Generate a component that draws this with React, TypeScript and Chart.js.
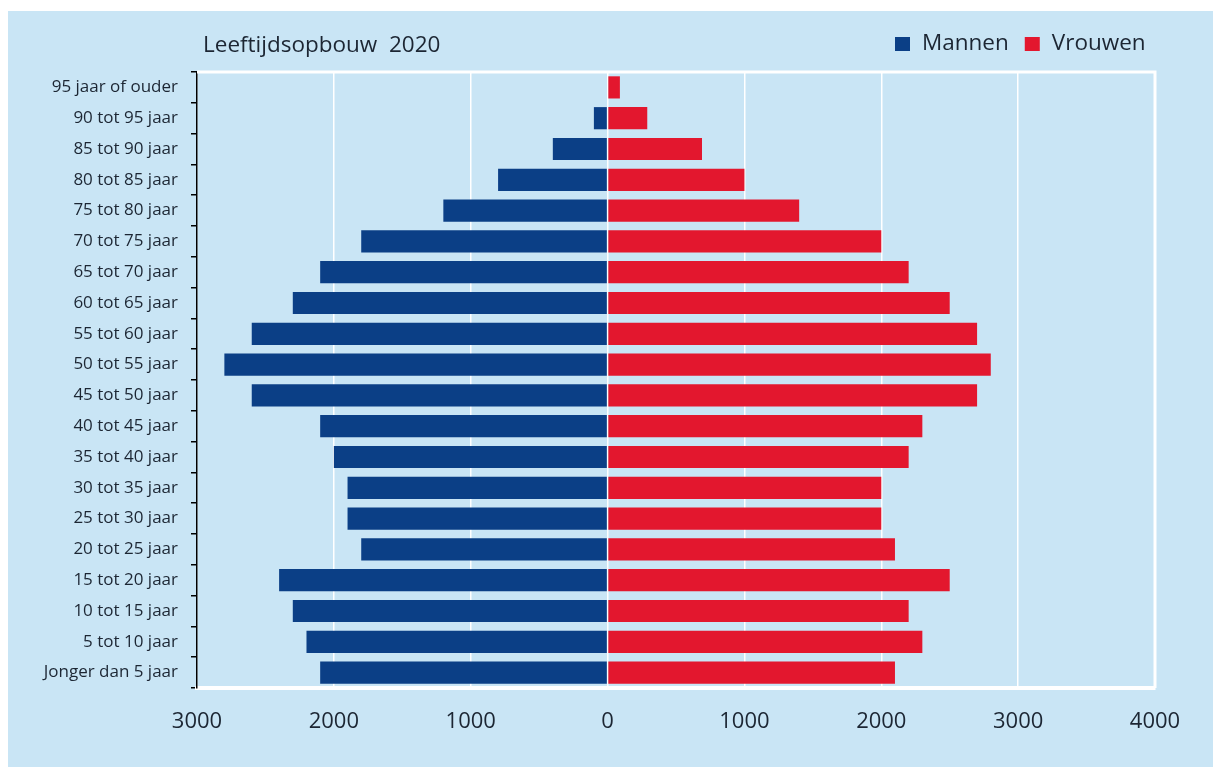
import React, { useEffect, useRef } from "react";
import { Chart, registerables } from "chart.js";

Chart.register(...registerables);

const categories = [
  "95 jaar of ouder",
  "90 tot 95 jaar",
  "85 tot 90 jaar",
  "80 tot 85 jaar",
  "75 tot 80 jaar",
  "70 tot 75 jaar",
  "65 tot 70 jaar",
  "60 tot 65 jaar",
  "55 tot 60 jaar",
  "50 tot 55 jaar",
  "45 tot 50 jaar",
  "40 tot 45 jaar",
  "35 tot 40 jaar",
  "30 tot 35 jaar",
  "25 tot 30 jaar",
  "20 tot 25 jaar",
  "15 tot 20 jaar",
  "10 tot 15 jaar",
  "5 tot 10 jaar",
  "Jonger dan 5 jaar",
];

const mannen = [0, 100, 400, 800, 1200, 1800, 2100, 2300, 2600, 2800, 2600, 2100, 2000, 1900, 1900, 1800, 2400, 2300, 2200, 2100];
const vrouwen = [90, 290, 690, 1000, 1400, 2000, 2200, 2500, 2700, 2800, 2700, 2300, 2200, 2000, 2000, 2100, 2500, 2200, 2300, 2100];

const title = "Leeftijdsopbouw  2020";
const seriesNames = ["Mannen", "Vrouwen"];
const xMin = -3000;
const xMax = 4000;
const xStep = 1000;

const BLUE = "#0b3f86";
const RED = "#e3172e";
const BG = "#c9e5f5";
const TEXT = "#1c2633";
const FONT = "'Open Sans', 'DejaVu Sans', sans-serif";

const decorPlugin = {
  id: "decor",
  beforeDatasetsDraw(chart: any) {
    const { ctx, chartArea } = chart;
    ctx.save();
    ctx.strokeStyle = "#ffffff";
    ctx.lineWidth = 3;
    ctx.beginPath();
    ctx.moveTo(chartArea.left, chartArea.top);
    ctx.lineTo(chartArea.right, chartArea.top);
    ctx.lineTo(chartArea.right, chartArea.bottom);
    ctx.stroke();
    ctx.restore();
  },
  afterDraw(chart: any) {
    const { ctx } = chart;
    ctx.save();
    ctx.fillStyle = TEXT;
    ctx.textBaseline = "middle";
    ctx.textAlign = "left";
    ctx.font = `22.5px ${FONT}`;
    ctx.fillText(title, 196, 35);
    // legend
    let x = 888;
    const y = 33;
    const colors = [BLUE, RED];
    seriesNames.forEach((name, i) => {
      ctx.fillStyle = colors[i];
      ctx.fillRect(x, y - 7, 15, 14);
      x += 27;
      ctx.fillStyle = TEXT;
      ctx.fillText(name, x, y);
      x += ctx.measureText(name).width + 16;
    });
    ctx.restore();
  },
};

export default function App() {
  const ref = useRef<HTMLCanvasElement | null>(null);

  useEffect(() => {
    if (!ref.current) return;
    const chart = new Chart(ref.current, {
      type: "bar",
      data: {
        labels: categories,
        datasets: [
          {
            label: seriesNames[0],
            data: mannen.map((v) => -v),
            backgroundColor: BLUE,
            barPercentage: 0.72,
            categoryPercentage: 1,
          },
          {
            label: seriesNames[1],
            data: vrouwen,
            backgroundColor: RED,
            barPercentage: 0.72,
            categoryPercentage: 1,
          },
        ],
      },
      plugins: [decorPlugin],
      options: {
        indexAxis: "y",
        animation: false,
        responsive: false,
        maintainAspectRatio: false,
        layout: { padding: { top: 61, right: 66, left: 0, bottom: 0 } },
        plugins: {
          legend: { display: false },
          title: { display: false },
          tooltip: { enabled: false },
        },
        scales: {
          x: {
            stacked: true,
            min: xMin,
            max: xMax,
            ticks: {
              stepSize: xStep,
              padding: 21,
              color: TEXT,
              font: { family: FONT, size: 22 },
              callback: (v: any) => String(Math.abs(Number(v))),
            },
            grid: { color: "#ffffff", lineWidth: 1.5, drawTicks: false },
            border: { color: "#ffffff", width: 4 },
            afterFit: (s: any) => {
              s.height = 79;
            },
          },
          y: {
            stacked: true,
            ticks: {
              padding: 13,
              color: TEXT,
              font: { family: FONT, size: 17 },
            },
            grid: {
              display: true,
              drawOnChartArea: false,
              drawTicks: true,
              tickLength: 6,
              color: "#000000",
              lineWidth: 1.5,
              offset: true,
            },
            border: { color: "#000000", width: 1.5 },
            afterFit: (s: any) => {
              s.width = 190;
            },
          },
        },
      },
    });
    return () => chart.destroy();
  }, []);

  return (
    <div
      style={{
        marginTop: 3,
        marginLeft: -1,
        width: 1214,
        height: 756,
        background: BG,
      }}
    >
      <canvas ref={ref} width={1214} height={756} style={{ display: "block" }} />
    </div>
  );
}
